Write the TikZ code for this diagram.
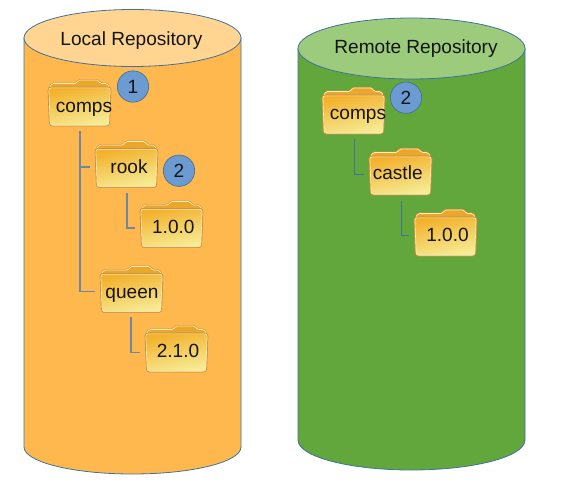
\documentclass[tikz,border=0pt]{standalone}
\usepackage{fontspec}
\setmainfont{Liberation Sans}
\definecolor{orangebody}{HTML}{FFB84D}
\definecolor{orangetop}{HTML}{FFD591}
\definecolor{greenbody}{HTML}{62A73B}
\definecolor{greentop}{HTML}{9CCB7B}
\definecolor{edgeblue}{HTML}{41719C}
\definecolor{badgeblue}{HTML}{6C9BD2}
\definecolor{foldedge}{HTML}{D0913A}
\definecolor{foldhi}{HTML}{FCEFC0}
\definecolor{foldtop}{HTML}{F3B12C}
\definecolor{foldmid}{HTML}{F7D052}
\definecolor{foldbot}{HTML}{F6EC96}
\definecolor{foldtab}{HTML}{EBA62C}
\definecolor{linegray}{HTML}{6F87A6}
\tikzset{
  x=0.75pt,y=-0.75pt,
  every node/.style={font=\fontsize{14.3pt}{16pt}\selectfont,text=black!92},
  cyllabel/.style={inner sep=0pt,text height=10pt,text depth=3pt},
  foldanchor/.style={minimum width=47pt,minimum height=29.5pt,inner sep=0pt},
  foldlabel/.style={inner sep=0pt,text height=10pt,text depth=3pt},
  foldback/.style={fill=foldtab,draw=foldedge,line width=0.4pt,rounded corners=1.2pt},
  foldbackhi/.style={draw=foldhi,line width=0.5pt,rounded corners=1.2pt},
  foldbodyedge/.style={fill=foldedge,draw=foldedge,line width=0.7pt,rounded corners=2.2pt},
  foldbodyfill/.style={draw=foldhi,line width=0.45pt,rounded corners=1.8pt,top color=foldtop,middle color=foldmid,bottom color=foldbot,shading angle=12},
  badge/.style={circle,draw=edgeblue,fill=badgeblue,line width=0.5pt,minimum size=23.5pt,inner sep=0pt},
  link/.style={draw=linegray,line width=0.8pt,shorten >=3.75pt},
  linkg/.style={draw=edgeblue,line width=0.7pt,shorten >=3.5pt},
  cyl/.style={draw=edgeblue,line width=0.6pt},
}
% #1 name, #2 x, #3 y, #4 label x, #5 label y, #6 text
\newcommand{\folder}[6]{%
  \begin{scope}[shift={(#2,#3)}]
    \path[foldback] (-30.5,-19) -- (-28,-23.5) -- (-3.5,-23.5) -- (-1.5,-27) -- (19,-27) -- (21,-23.5) -- (28,-23.5) -- (30.5,-19) -- cycle;
    \path[foldbackhi] (-29.5,-19.5) -- (-27.5,-23) -- (-3,-23) -- (-1,-26.5) -- (18.5,-26.5) -- (20.5,-23) -- (27.5,-23) -- (29.5,-19.5);
    \path[foldbodyedge] (-31.5,-19.5) -- (31.5,-19.5) -- (30,19.5) -- (-30,19.5) -- cycle;
    \path[foldbodyfill] (-30.7,-18.7) -- (30.7,-18.7) -- (29.3,18.7) -- (-29.3,18.7) -- cycle;
  \end{scope}
  \node[foldanchor] (#1) at (#2,#3) {};
  \node[foldlabel] (#1t) at (#4,#5) {#6};}
\begin{document}
\begin{tikzpicture}
\useasboundingbox (0,0) rectangle (564,496);
% left cylinder
\draw[fill=orangebody,cyl] (24,38) -- (24,447) arc[start angle=180,end angle=0,x radius=108.5,y radius=27] -- (241,38) -- cycle;
\draw[fill=orangetop,cyl] (132.5,38) ellipse[x radius=108.5,y radius=28.5];
\node[cyllabel] (loc) at (131.5,40.8) {Local Repository};
% right cylinder
\draw[fill=greenbody,cyl] (298,48.5) -- (298,440) arc[start angle=180,end angle=0,x radius=113.5,y radius=30] -- (525,48.5) -- cycle;
\draw[fill=greentop,cyl] (411.5,48.5) ellipse[x radius=113.5,y radius=30.5];
\node[cyllabel] (rem) at (416,49) {Remote Repository};
% folders
\folder{lcomps}{79.5}{106.5}{84}{108}{comps}
\folder{lrook}{126.5}{168}{129}{169}{rook}
\folder{lone}{171.5}{228}{173.3}{229}{1.0.0}
\folder{lqueen}{131.5}{293}{132}{294.3}{queen}
\folder{ltwo}{176.5}{352.5}{178}{353}{2.1.0}
\folder{rcomps}{353.5}{114.5}{358}{115.2}{comps}
\folder{rcastle}{400.5}{175.5}{397.7}{174.6}{castle}
\folder{rone}{445.5}{236.5}{447.5}{237}{1.0.0}
% connectors
\coordinate (a1) at (80,131);
\coordinate (a2) at (127,193);
\coordinate (a3) at (131,317);
\coordinate (a4) at (354,139);
\coordinate (a5) at (401,201);
\draw[link] (a1) |- ([yshift=0.75pt]lrook.west);
\draw[link] (a1) |- ([yshift=1.2pt]lqueen.west);
\draw[link] (a2) |- (lone.west);
\draw[link] (a3) |- (ltwo.west);
\draw[linkg] (a4) |- ([yshift=1.1pt]rcastle.west);
\draw[linkg] (a5) |- ([yshift=1.1pt]rone.west);
% badges
\node[badge] (b1) at (133,86.5) {1};
\node[badge] (b2) at (179,170.7) {2};
\node[badge] (b3) at (406,97.7) {2};
\end{tikzpicture}
\end{document}
